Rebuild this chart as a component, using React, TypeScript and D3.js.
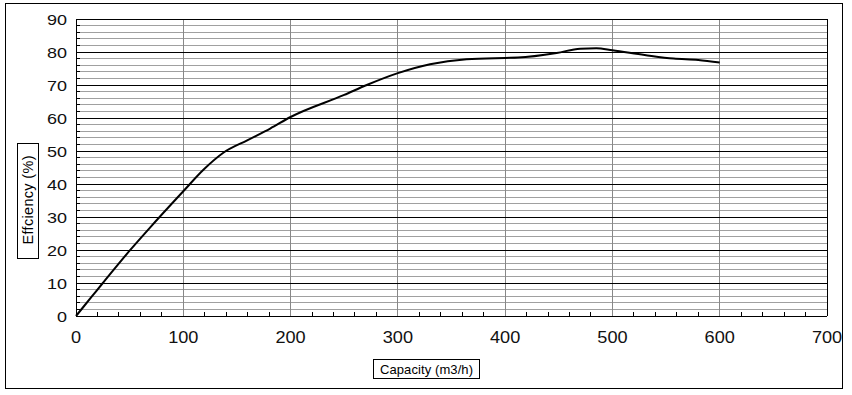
import * as d3 from "d3";
import { useEffect, useRef } from "react";

// capacity (m3/h) and efficiency (%)
const capacity = [0, 15, 25, 50, 69, 100, 119, 137, 160, 181, 200, 250, 271, 300, 330, 364, 400, 412, 448, 470, 485, 500, 530, 557, 580, 600];
const efficiency = [0, 6, 10, 19.8, 26.8, 37.8, 44.4, 49.4, 53.3, 56.8, 60.3, 67, 70, 73.6, 76.3, 77.8, 78.2, 78.3, 79.7, 81, 81.1, 80.5, 79.1, 78, 77.6, 76.8];

const xTicks = [0, 100, 200, 300, 400, 500, 600, 700];
const yTicks = [0, 10, 20, 30, 40, 50, 60, 70, 80, 90];

const App = () => {
  const svgRef = useRef<SVGSVGElement>(null);

  useEffect(() => {
    const width = 852;
    const height = 395;
    const plot = { left: 76, right: 827, top: 19, bottom: 316 };

    const svg = d3.select(svgRef.current);
    svg.selectAll("*").remove();

    const x = d3.scaleLinear().domain([0, 700]).range([plot.left, plot.right]);
    const y = d3.scaleLinear().domain([0, 90]).range([plot.bottom, plot.top]);

    // outer frame
    svg
      .append("rect")
      .attr("x", 5.5)
      .attr("y", 3.5)
      .attr("width", 837)
      .attr("height", 385)
      .attr("fill", "white")
      .attr("stroke", "black");

    const grid = svg.append("g").attr("shape-rendering", "crispEdges");

    // minor horizontal lines every 2
    d3.range(0, 91, 2)
      .filter((v) => v % 10 !== 0)
      .forEach((v) => {
        grid
          .append("line")
          .attr("x1", plot.left)
          .attr("x2", plot.right)
          .attr("y1", y(v))
          .attr("y2", y(v))
          .attr("stroke", "#a0a0a0");
        grid
          .append("line")
          .attr("x1", plot.left)
          .attr("x2", plot.left + 4)
          .attr("y1", y(v))
          .attr("y2", y(v))
          .attr("stroke", "black");
      });

    // vertical grid
    xTicks.slice(1, -1).forEach((v) => {
      grid
        .append("line")
        .attr("x1", x(v))
        .attr("x2", x(v))
        .attr("y1", plot.top)
        .attr("y2", plot.bottom)
        .attr("stroke", "#888");
    });

    // minor x ticks every 20
    d3.range(0, 701, 20)
      .filter((v) => v % 100 !== 0)
      .forEach((v) => {
        grid
          .append("line")
          .attr("x1", x(v))
          .attr("x2", x(v))
          .attr("y1", plot.bottom)
          .attr("y2", plot.bottom - 4)
          .attr("stroke", "black");
      });

    // major horizontal lines
    yTicks.forEach((v) => {
      grid
        .append("line")
        .attr("x1", plot.left)
        .attr("x2", plot.right)
        .attr("y1", y(v))
        .attr("y2", y(v))
        .attr("stroke", "black");
    });

    grid
      .append("line")
      .attr("x1", plot.left)
      .attr("x2", plot.left)
      .attr("y1", plot.top)
      .attr("y2", plot.bottom)
      .attr("stroke", "black");
    grid
      .append("line")
      .attr("x1", plot.right)
      .attr("x2", plot.right)
      .attr("y1", plot.top)
      .attr("y2", plot.bottom)
      .attr("stroke", "black");

    // curve
    const data = capacity.map((c, i) => [c, efficiency[i]] as [number, number]);
    const line = d3
      .line<[number, number]>()
      .x((d) => x(d[0]))
      .y((d) => y(d[1]))
      .curve(d3.curveMonotoneX);

    svg
      .append("path")
      .datum(data)
      .attr("fill", "none")
      .attr("stroke", "black")
      .attr("stroke-width", 2)
      .attr("d", line);

    const font = "'Liberation Sans', Arial, sans-serif";

    // tick labels (the original font is a bit wide, so stretch it)
    yTicks.forEach((v) => {
      svg
        .append("text")
        .attr("transform", `translate(67,${y(v) + 5.5}) scale(1.2,1)`)
        .attr("text-anchor", "end")
        .attr("font-family", font)
        .attr("font-size", 15)
        .attr("fill", "#111")
        .text(v);
    });

    xTicks.forEach((v) => {
      svg
        .append("text")
        .attr("transform", `translate(${x(v)},343) scale(1.1,1)`)
        .attr("text-anchor", "middle")
        .attr("font-family", font)
        .attr("font-size", 16.5)
        .attr("fill", "#111")
        .text(v);
    });

    // axis titles in boxes
    svg
      .append("rect")
      .attr("x", 373.5)
      .attr("y", 359.5)
      .attr("width", 106)
      .attr("height", 19)
      .attr("fill", "none")
      .attr("stroke", "black");
    svg
      .append("text")
      .attr("x", 426.5)
      .attr("y", 373.5)
      .attr("text-anchor", "middle")
      .attr("font-family", font)
      .attr("font-size", 13)
      .attr("textLength", 93)
      .text("Capacity (m3/h)");

    svg
      .append("rect")
      .attr("x", 17.5)
      .attr("y", 143.5)
      .attr("width", 21)
      .attr("height", 115)
      .attr("fill", "none")
      .attr("stroke", "black");
    svg
      .append("text")
      .attr("transform", "translate(33,200) rotate(-90)")
      .attr("text-anchor", "middle")
      .attr("font-family", font)
      .attr("font-size", 14.5)
      .attr("textLength", 89)
      .text("Effciency (%)");

    svg.attr("width", width).attr("height", height);
  }, []);

  return (
    <svg
      ref={svgRef}
      width={852}
      height={395}
      style={{ position: "absolute", left: 0, top: 0, background: "white" }}
    ></svg>
  );
};

export default App;
